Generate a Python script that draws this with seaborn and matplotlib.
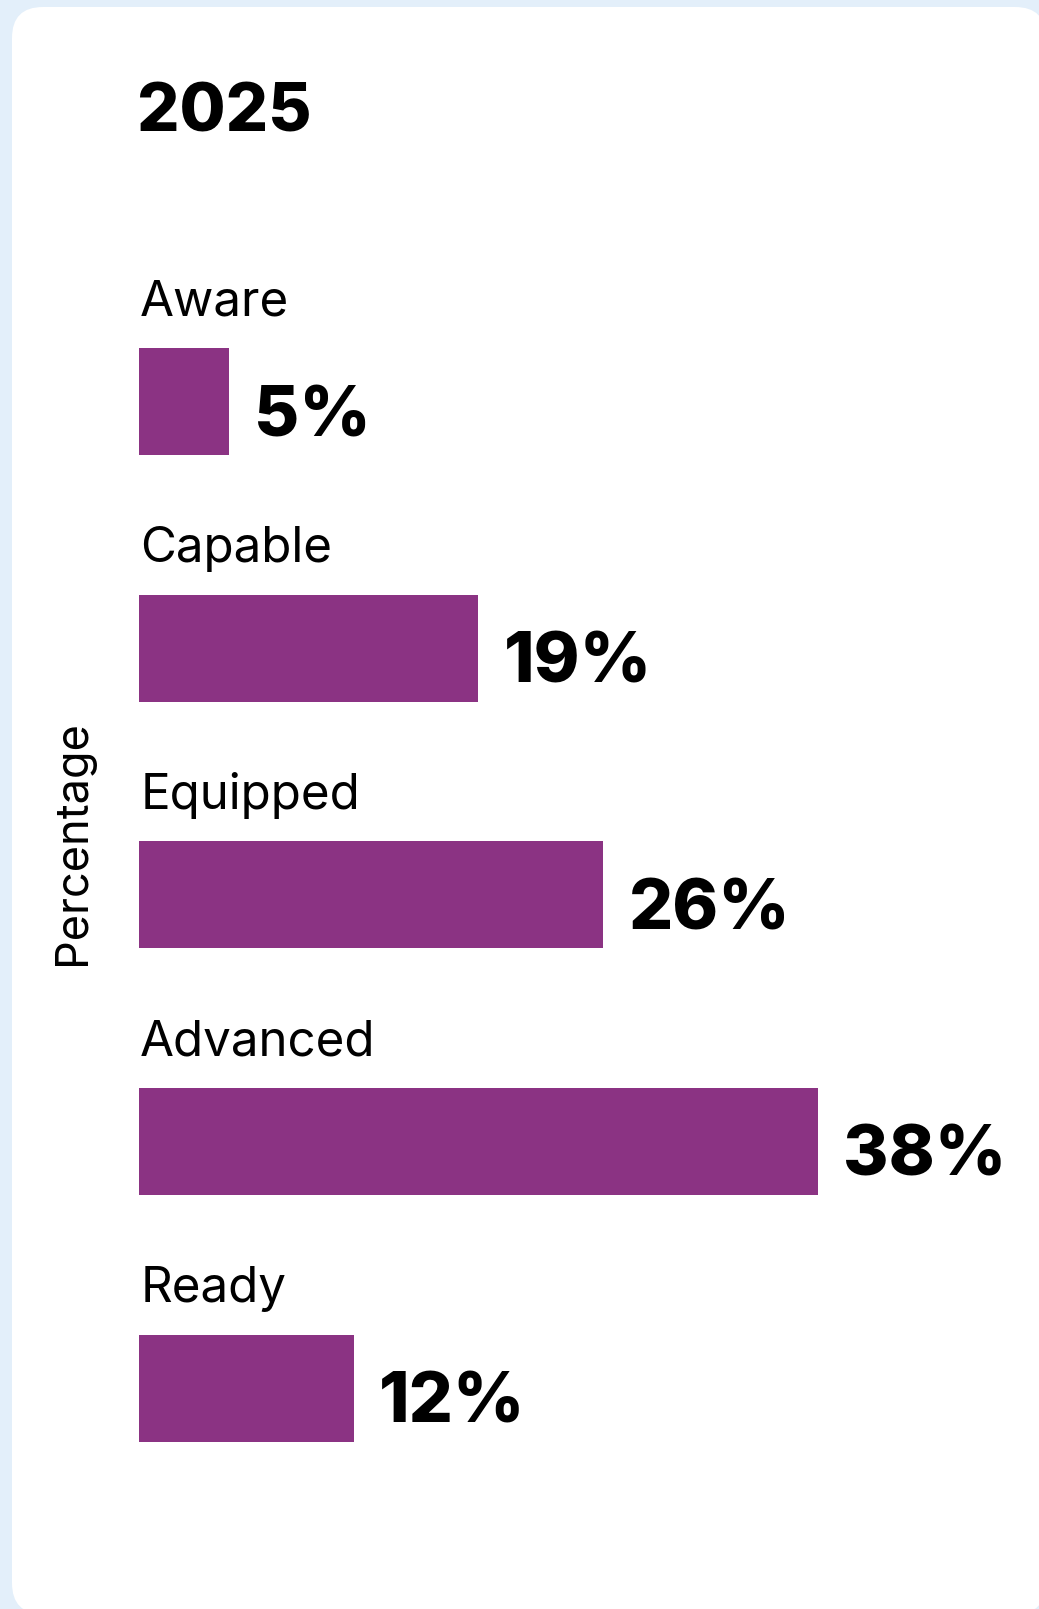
import matplotlib
matplotlib.use("Agg")
import matplotlib.pyplot as plt
from matplotlib.patches import FancyBboxPatch
import seaborn as sns
import pandas as pd

# Readiness levels and share of respondents (2025)
categories = ["Aware", "Capable", "Equipped", "Advanced", "Ready"]
values = [5, 19, 26, 38, 12]
value_labels = ["5%", "19%", "26%", "38%", "12%"]
title = "2025"
axis_label = "Percentage"

BAR_COLOR = "#8B3383"
PAGE_BG = "#E3EFFA"
FONT = ["Inter", "DejaVu Sans"]

sns.set_theme(style="white")
plt.rcParams["font.family"] = FONT

W, H = 1039, 1609
fig = plt.figure(figsize=(W / 100, H / 100), dpi=100)
fig.patch.set_facecolor(PAGE_BG)

# Card behind the chart, in pixel space
bg = fig.add_axes([0, 0, 1, 1], zorder=0)
bg.set_xlim(0, W)
bg.set_ylim(H, 0)
bg.axis("off")
bg.add_patch(FancyBboxPatch((12, 7), 1034, 1607,
                            boxstyle="round,pad=0,rounding_size=31",
                            facecolor="white", edgecolor="none"))

# Bar axes: x=0 sits at the left edge of the bars
left_px, px_per_unit = 139.3, 17.85
xmax = 50
top_px, bottom_px = 155.0, 1536.0
ax = fig.add_axes([left_px / W, 1 - bottom_px / H,
                   xmax * px_per_unit / W, (bottom_px - top_px) / H], zorder=1)
ax.patch.set_alpha(0)

df = pd.DataFrame({"level": categories, "pct": values})
sns.barplot(data=df, x="pct", y="level", orient="h", color=BAR_COLOR,
            saturation=1, width=0.434, linewidth=0, ax=ax)

ax.set_xlim(0, xmax)
ax.set_ylim(4.6, -1.0)
for s in ax.spines.values():
    s.set_visible(False)
ax.set_xticks([])
ax.set_yticks([])
ax.set_xlabel("")
ax.set_ylabel("")

for i, (cat, v, lab) in enumerate(zip(categories, values, value_labels)):
    ax.text(0.05, i - 0.348, cat, ha="left", va="baseline",
            fontsize=35.5, color="black")
    ax.text(v + 1.4, i + 0.14, lab, ha="left", va="baseline",
            fontsize=50, fontweight="heavy", color="black")

fig.text(137 / W, 1 - 132 / H, title, ha="left", va="baseline",
         fontsize=48, fontweight="heavy", color="black")
fig.text(73 / W, 1 - 843 / H, axis_label, ha="center", va="center",
         rotation=90, fontsize=32.5, color="black")

fig.savefig("out.png", dpi=100, facecolor=PAGE_BG)
